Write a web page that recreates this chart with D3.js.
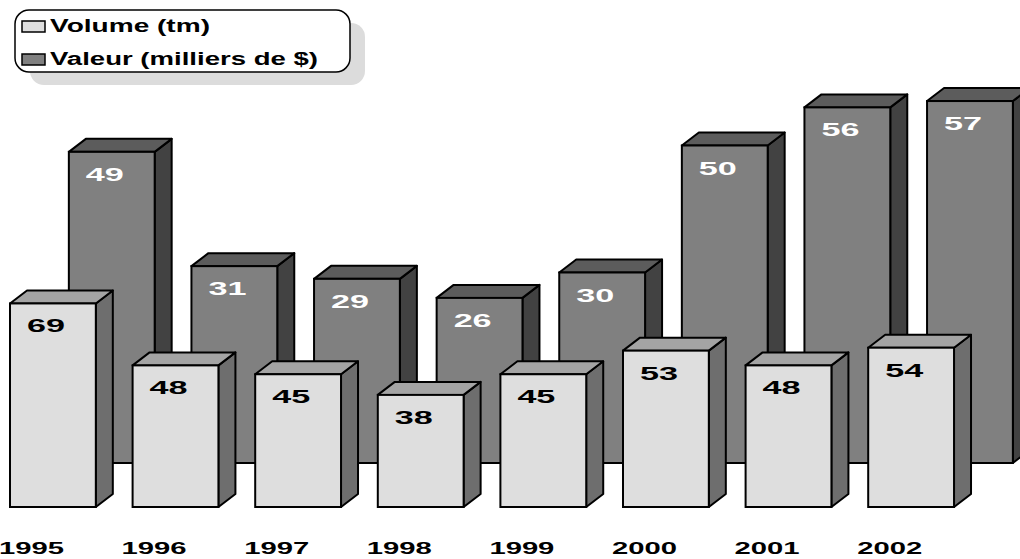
<!DOCTYPE html>
<html>
<head>
<meta charset="utf-8">
<script src="https://cdn.jsdelivr.net/npm/d3@7/dist/d3.min.js"></script>
<style>
html,body{margin:0;padding:0;background:#fff;overflow:hidden;}
svg{display:block;font-family:"Liberation Sans",Arial,sans-serif;}
</style>
</head>
<body>
<svg id="chart" width="1020" height="559"></svg>
<script>
const years = ["1995","1996","1997","1998","1999","2000","2001","2002"];
const volume = [69, 48, 45, 38, 45, 53, 48, 54];
const valeur = [49, 31, 29, 26, 30, 50, 56, 57];
const seriesNames = ["Volume (tm)", "Valeur (milliers de $)"];

const svg = d3.select("#chart");

const x = d3.scaleBand().domain(years).range([10, 10 + 122.6 * 8]).padding(0);
const barW = x.bandwidth() * 0.70;
const backShift = x.bandwidth() * 0.48;
const yFront = d3.scaleLinear().domain([0, 100]).range([507, 212]);
const yBack = d3.scaleLinear().domain([0, 60]).range([463, 82]);
const dx = 17, dy = 13;

const styles = {
  back: {face: "#808080", top: "#5c5c5c", side: "#424242"},
  front: {face: "#dedede", top: "#a4a4a4", side: "#6e6e6e"}
};

function drawBars(g, values, xl, y, st, labelColor) {
  const grp = g.selectAll("g").data(values).join("g");
  grp.each(function(v, i) {
    const gg = d3.select(this);
    const l = xl(years[i]);
    const r = l + barW;
    const t = y(v);
    const b = y(0);
    gg.append("path")
      .attr("d", `M${r},${t}L${r+dx},${t-dy}L${r+dx},${b-dy}L${r},${b}Z`)
      .attr("fill", st.side).attr("stroke", "#000").attr("stroke-width", 2).attr("stroke-linejoin", "round");
    gg.append("path")
      .attr("d", `M${l},${t}L${l+dx},${t-dy}L${r+dx},${t-dy}L${r},${t}Z`)
      .attr("fill", st.top).attr("stroke", "#000").attr("stroke-width", 2).attr("stroke-linejoin", "round");
    gg.append("rect")
      .attr("x", l).attr("y", t).attr("width", barW).attr("height", b - t)
      .attr("fill", st.face).attr("stroke", "#000").attr("stroke-width", 2);
    gg.append("text")
      .attr("x", l + 17).attr("y", t + 29)
      .attr("font-size", 18).attr("font-weight", "bold")
      .attr("fill", labelColor)
      .attr("textLength", 38).attr("lengthAdjust", "spacingAndGlyphs")
      .text(v);
  });
}

const backG = svg.append("g");
drawBars(backG, valeur, d => x(d) + backShift, yBack, styles.back, "#fff");
const frontG = svg.append("g");
drawBars(frontG, volume, d => x(d), yFront, styles.front, "#000");

// category labels
svg.append("g").selectAll("text").data(years).join("text")
  .attr("x", d => x(d) + 21.5)
  .attr("y", 554)
  .attr("text-anchor", "middle")
  .attr("font-size", 17).attr("font-weight", "bold")
  .attr("textLength", 65).attr("lengthAdjust", "spacingAndGlyphs")
  .text(d => d);

// legend
const lg = svg.append("g");
lg.append("rect").attr("x", 30).attr("y", 23).attr("width", 335).attr("height", 62)
  .attr("rx", 14).attr("fill", "#dcdcdc");
lg.append("rect").attr("x", 15).attr("y", 10).attr("width", 335).attr("height", 62)
  .attr("rx", 14).attr("fill", "#fff").attr("stroke", "#000").attr("stroke-width", 1.5);
const legendFills = [styles.front.face, styles.back.face];
const legendWidths = [160, 268];
seriesNames.forEach((name, i) => {
  const by = 32 + i * 33;
  lg.append("rect").attr("x", 22).attr("y", by - 11).attr("width", 23).attr("height", 11)
    .attr("fill", legendFills[i]).attr("stroke", "#000").attr("stroke-width", 1.5);
  lg.append("text").attr("x", 50).attr("y", by)
    .attr("font-size", 18).attr("font-weight", "bold")
    .attr("textLength", legendWidths[i]).attr("lengthAdjust", "spacingAndGlyphs")
    .text(name);
});
</script>
</body>
</html>
